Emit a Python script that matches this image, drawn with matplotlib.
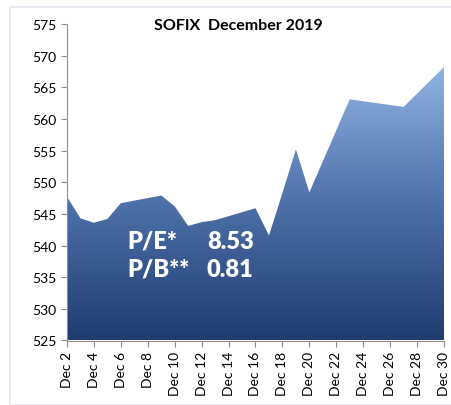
import numpy as np
import matplotlib
matplotlib.use("Agg")
import matplotlib.pyplot as plt
from matplotlib.colors import LinearSegmentedColormap
from matplotlib.patches import Rectangle

# SOFIX closing values, December 2019 (day of month -> index)
days = [2, 3, 4, 5, 6, 9, 10, 11, 12, 13, 16, 17, 18, 19, 20, 23, 27, 30]
values = [547.7, 544.3, 543.6, 544.2, 546.7, 547.9, 546.2, 543.1, 543.7, 544.0,
          545.9, 541.6, 548.3, 555.2, 548.4, 563.1, 561.9, 568.2]
tick_days = list(range(2, 31, 2))
tick_labels = ["Dec %d" % d for d in tick_days]
pe_ratio = "8.53"
pb_ratio = "0.81"

plt.rcParams["font.family"] = ["Lato", "DejaVu Sans"]

fig = plt.figure(figsize=(4.52, 4.06), dpi=100)
fig.patches.append(Rectangle((10 / 452, 0.0), 1.0, 1 - 8 / 406, transform=fig.transFigure,
                             fill=False, edgecolor="#E3E8EF", linewidth=1.2))
ax = fig.add_axes([67 / 452, 1 - 341.5 / 406, (444 - 67) / 452, (341.5 - 25) / 406])

ymin, ymax = 525, 575
ax.set_xlim(days[0], days[-1])
ax.set_ylim(ymin, ymax)

# area with vertical gradient
poly = ax.fill_between(days, values, ymin, color="none", linewidth=0)
cmap = LinearSegmentedColormap.from_list("sofix", ["#1F3C70", "#4D71A8", "#8FB3E2"])
grad = np.linspace(0, 1, 256).reshape(-1, 1)
img = ax.imshow(grad, cmap=cmap, origin="lower", aspect="auto",
                extent=[days[0], days[-1], ymin, max(values)], zorder=1)
img.set_clip_path(poly.get_paths()[0], transform=ax.transData)

ax.set_xticks(tick_days)
ax.set_xticklabels(tick_labels, rotation=90)
ax.set_yticks(range(525, 576, 5))
for s in ["top", "right"]:
    ax.spines[s].set_visible(False)
for s in ["left", "bottom"]:
    ax.spines[s].set_color("#8C8C8C")
ax.tick_params(axis="both", colors="#8C8C8C", labelcolor="black", labelsize=10,
               length=4, direction="out")

fig.text(238 / 452, 1 - 26 / 406, "SOFIX  December 2019", fontsize=11.5,
         fontweight="bold", ha="center", va="center")

txt = dict(color="white", fontsize=17, fontweight="heavy", transform=fig.transFigure,
           va="baseline")
fig.text(127 / 452, 1 - 249 / 406, "P/E*", **txt)
fig.text(207 / 452, 1 - 249 / 406, pe_ratio, **txt)
fig.text(127 / 452, 1 - 277 / 406, "P/B**", **txt)
fig.text(207 / 452, 1 - 277 / 406, pb_ratio, **txt)

fig.savefig("out.png", dpi=100)
